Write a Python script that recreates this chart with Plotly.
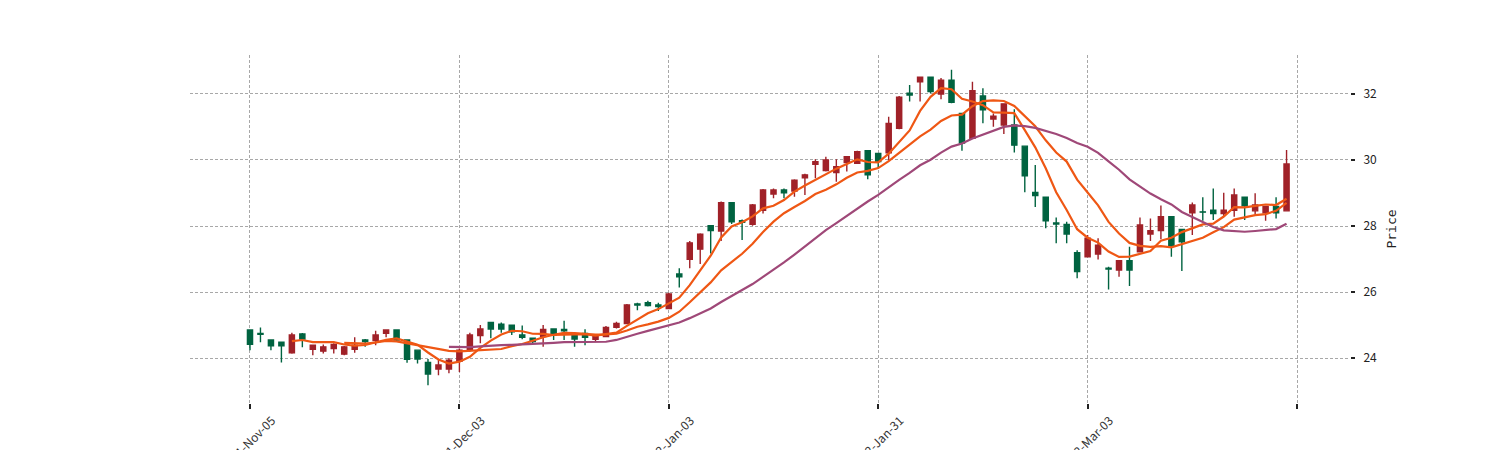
import plotly.graph_objects as go
import pandas as pd

opens = [24.85, 24.75, 24.55, 24.48, 24.16, 24.73, 24.27, 24.21, 24.29, 24.12,
         24.27, 24.55, 24.53, 24.75, 24.85, 24.55, 24.24, 23.87, 23.67, 23.67,
         23.90, 24.24, 24.68, 25.08, 25.03, 25.00, 24.70, 24.60, 24.65, 24.88,
         24.87, 24.70, 24.75, 24.57, 24.65, 24.93, 25.05, 25.64, 25.68, 25.61,
         25.50, 26.55, 26.99, 27.30, 28.01, 27.85, 28.71, 28.16, 28.05, 28.48,
         28.97, 29.09, 29.06, 29.46, 29.87, 29.68, 29.62, 29.92, 29.90, 30.28,
         30.20, 30.22, 30.96, 32.02, 32.37, 32.51, 32.00, 32.42, 31.41, 30.66,
         31.94, 31.24, 31.06, 31.06, 30.42, 29.02, 28.87, 28.09, 28.05, 27.19,
         27.07, 27.15, 26.72, 26.67, 26.95, 27.22, 27.76, 27.86, 28.28, 27.90,
         28.40, 28.43, 28.48, 28.38, 28.48, 28.87, 28.46, 28.40, 28.59, 28.46]
highs = [24.87, 24.93, 24.57, 24.49, 24.77, 24.76, 24.40, 24.41, 24.45, 24.37,
         24.63, 24.58, 24.83, 24.86, 24.86, 24.55, 24.25, 23.97, 23.94, 24.00,
         24.29, 24.77, 25.00, 25.09, 25.08, 25.02, 24.99, 24.62, 25.00, 24.90,
         25.13, 24.72, 24.87, 24.69, 24.97, 25.10, 25.64, 25.68, 25.74, 25.68,
         25.98, 26.72, 27.55, 27.78, 28.03, 28.74, 28.72, 28.20, 28.67, 29.12,
         29.14, 29.14, 29.42, 29.58, 30.02, 30.10, 30.02, 30.12, 30.28, 30.30,
         30.22, 31.31, 31.94, 32.27, 32.52, 32.52, 32.48, 32.73, 31.43, 32.37,
         32.17, 31.41, 31.72, 31.54, 30.44, 29.85, 28.88, 28.26, 28.13, 27.27,
         27.73, 27.63, 26.77, 26.96, 27.37, 28.26, 28.23, 28.62, 28.30, 27.92,
         28.71, 28.87, 29.14, 29.01, 29.14, 28.88, 28.99, 28.60, 28.87, 30.30]
lows = [24.24, 24.48, 24.24, 23.87, 24.13, 24.33, 24.09, 24.14, 24.14, 24.09,
        24.16, 24.34, 24.39, 24.63, 24.52, 23.86, 23.84, 23.18, 23.48, 23.54,
        23.58, 24.19, 24.45, 24.60, 24.77, 24.70, 24.57, 24.45, 24.34, 24.55,
        24.55, 24.34, 24.39, 24.50, 24.63, 24.90, 25.03, 25.45, 25.56, 25.43,
        25.48, 26.14, 26.72, 26.85, 27.17, 27.55, 28.06, 27.58, 28.01, 28.38,
        28.84, 28.84, 28.89, 28.94, 29.45, 29.65, 29.34, 29.65, 29.88, 29.42,
        29.75, 30.00, 30.93, 31.77, 31.77, 32.02, 31.84, 31.72, 30.28, 30.64,
        31.11, 31.01, 30.79, 30.23, 29.02, 28.58, 27.93, 27.48, 27.48, 26.42,
        27.05, 26.99, 26.08, 26.46, 26.18, 27.20, 27.55, 27.60, 27.07, 26.64,
        27.73, 28.16, 28.18, 28.28, 28.28, 28.18, 28.36, 28.16, 28.23, 28.45]
closes = [24.42, 24.72, 24.37, 24.37, 24.70, 24.58, 24.39, 24.34, 24.41, 24.34,
          24.39, 24.50, 24.70, 24.85, 24.55, 23.96, 23.97, 23.52, 23.79, 23.94,
          24.24, 24.70, 24.88, 24.88, 24.88, 24.80, 24.63, 24.50, 24.87, 24.70,
          24.83, 24.58, 24.63, 24.67, 24.93, 25.05, 25.61, 25.61, 25.59, 25.56,
          25.94, 26.46, 27.49, 27.75, 27.86, 28.71, 28.13, 28.11, 28.64, 29.09,
          29.09, 29.01, 29.39, 29.55, 29.95, 30.00, 29.80, 30.10, 30.25, 29.55,
          29.95, 31.11, 31.90, 31.97, 32.51, 32.07, 32.42, 31.75, 30.51, 32.10,
          31.52, 31.33, 31.70, 30.45, 29.52, 28.92, 28.16, 28.06, 27.76, 26.62,
          27.63, 27.42, 26.70, 26.95, 26.67, 28.03, 27.86, 28.28, 27.39, 27.52,
          28.64, 28.42, 28.38, 28.48, 28.94, 28.61, 28.64, 28.59, 28.40, 29.88]

tick_positions = [0, 20, 40, 60, 80, 100]
tick_labels = ["2021-Nov-05", "2021-Dec-03", "2022-Jan-03", "2022-Jan-31", "2022-Mar-03", ""]
price_ticks = [24, 26, 28, 30, 32]
mav_windows = [5, 10, 20]
mav_colors = ["#ef5714", "#ef5714", "#9f4878"]

x = list(range(len(closes)))
fig = go.Figure()
fig.add_trace(go.Candlestick(
    x=x, open=opens, high=highs, low=lows, close=closes,
    increasing=dict(line=dict(color="#a02128", width=1.4), fillcolor="#a02128"),
    decreasing=dict(line=dict(color="#006340", width=1.4), fillcolor="#006340"),
    whiskerwidth=0, showlegend=False, hoverinfo="skip"))

cs = pd.Series(closes)
for w, col in zip(mav_windows, mav_colors):
    ma = cs.rolling(w).mean()
    fig.add_trace(go.Scatter(x=x, y=ma, mode="lines",
                             line=dict(color=col, width=2.2),
                             showlegend=False, hoverinfo="skip"))

font_fam = "Noto Sans CJK SC, DejaVu Sans"
fig.update_layout(
    width=1500, height=450,
    margin=dict(l=190, r=150, t=55, b=47),
    paper_bgcolor="white", plot_bgcolor="white",
    font=dict(family=font_fam, size=11, color="#222222"),
    xaxis=dict(
        range=[-5.73, 105.06], rangeslider=dict(visible=False),
        tickmode="array", tickvals=tick_positions, ticktext=tick_labels,
        tickangle=-45, ticks="outside", ticklen=5, tickwidth=1.5, tickcolor="#222222",
        showgrid=True, gridcolor="#a8a8a8", griddash="3px,2px", gridwidth=0.8,
        zeroline=False, showline=False, automargin=False,
        ticklabelshift=22, ticklabelstandoff=0,
        tickfont=dict(size=12, family=font_fam, color="#333333")),
    yaxis=dict(
        side="right", range=[22.64, 33.18],
        tickmode="array", tickvals=price_ticks,
        ticks="outside", ticklen=4, tickwidth=1.5, tickcolor="#222222",
        showgrid=True, gridcolor="#a8a8a8", griddash="3px,2px", gridwidth=0.8,
        zeroline=False, showline=False, automargin=False,
        ticklabelstandoff=6,
        tickfont=dict(size=12, family=font_fam, color="#222222"),
        title=dict(text="Price", standoff=10,
                   font=dict(size=13, family="DejaVu Sans Mono", color="#222222"))),
)
fig.write_html("out.html")
